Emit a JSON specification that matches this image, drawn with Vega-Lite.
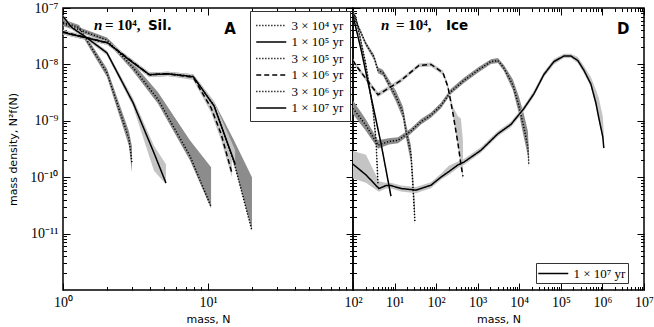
{
  "$schema": "https://vega.github.io/schema/vega-lite/v6.json",
  "background": "white",
  "padding": {"left": 6, "top": 0, "right": 0, "bottom": 0},
  "bounds": "flush",
  "spacing": 0,
  "config": {
    "view": {"stroke": "#000", "strokeWidth": 1.5},
    "axis": {"domain": false, "grid": false, "tickColor": "#000", "tickWidth": 1, "labelFont": "Liberation Serif", "labelFontSize": 14, "labelColor": "#000", "titleFont": "DejaVu Sans", "titleFontSize": 11, "titleFontWeight": "normal", "titleColor": "#000", "labelFlush": false, "labelOverlap": false, "labelBound": false, "minExtent": 0},
    "legend": {"strokeColor": "#333", "fillColor": "#fff", "padding": 6, "cornerRadius": 0, "symbolType": "M-1.1,0H2.9", "symbolFillColor": "transparent", "symbolStrokeColor": "#000", "symbolStrokeWidth": 1.5, "symbolSize": 225, "labelOffset": 18.5, "rowPadding": 0.5, "labelFont": "Liberation Serif", "labelFontSize": 13, "labelColor": "#000", "titleFontSize": 0}
  },
  "resolve": {"scale": {"x": "independent", "y": "independent", "strokeDash": "independent"}, "legend": {"strokeDash": "independent"}},
  "datasets": {
    "d": [
      {"p":"A","s":"3 × 10⁴ yr","x":1,"y":5.6e-8,"lo":5.0e-8,"hi":6.3e-8},
      {"p":"A","s":"3 × 10⁴ yr","x":1.29,"y":4.5e-8,"lo":4.0e-8,"hi":5.0e-8},
      {"p":"A","s":"3 × 10⁴ yr","x":2.01,"y":7.1e-9,"lo":6.0e-9,"hi":8.5e-9},
      {"p":"A","s":"3 × 10⁴ yr","x":2.85,"y":4.8e-10,"lo":3.6e-10,"hi":6.5e-10},
      {"p":"A","s":"3 × 10⁴ yr","x":2.99,"y":1.8e-10,"lo":1.2e-10,"hi":3.5e-10},

      {"p":"A","s":"1 × 10⁵ yr","x":1,"y":7.1e-8,"lo":6.6e-8,"hi":7.6e-8},
      {"p":"A","s":"1 × 10⁵ yr","x":1.15,"y":4.5e-8,"lo":4.1e-8,"hi":5.0e-8},
      {"p":"A","s":"1 × 10⁵ yr","x":1.4,"y":3.2e-8,"lo":2.9e-8,"hi":3.5e-8},
      {"p":"A","s":"1 × 10⁵ yr","x":2.01,"y":1.6e-8,"lo":1.45e-8,"hi":1.75e-8},
      {"p":"A","s":"1 × 10⁵ yr","x":3.04,"y":2.1e-9,"lo":1.8e-9,"hi":2.5e-9},
      {"p":"A","s":"1 × 10⁵ yr","x":4.24,"y":2.7e-10,"lo":1.3e-10,"hi":3.6e-10},
      {"p":"A","s":"1 × 10⁵ yr","x":5.13,"y":7.9e-11,"lo":7.5e-11,"hi":1.7e-10},

      {"p":"A","s":"3 × 10⁵ yr","x":1,"y":5.3e-8,"lo":4.8e-8,"hi":5.8e-8},
      {"p":"A","s":"3 × 10⁵ yr","x":2.01,"y":2.7e-8,"lo":2.5e-8,"hi":3.0e-8},
      {"p":"A","s":"3 × 10⁵ yr","x":2.99,"y":9.3e-9,"lo":8.0e-9,"hi":1.1e-8},
      {"p":"A","s":"3 × 10⁵ yr","x":4.52,"y":2.4e-9,"lo":2.0e-9,"hi":3.2e-9},
      {"p":"A","s":"3 × 10⁵ yr","x":7.5,"y":2.4e-10,"lo":2.0e-10,"hi":4.5e-10},
      {"p":"A","s":"3 × 10⁵ yr","x":10.5,"y":3.0e-11,"lo":2.8e-11,"hi":1.5e-10},

      {"p":"A","s":"1 × 10⁶ yr","x":1,"y":3.8e-8,"lo":3.5e-8,"hi":4.1e-8},
      {"p":"A","s":"1 × 10⁶ yr","x":2.04,"y":2.4e-8,"lo":2.2e-8,"hi":2.6e-8},
      {"p":"A","s":"1 × 10⁶ yr","x":2.94,"y":1.17e-8,"lo":1.07e-8,"hi":1.28e-8},
      {"p":"A","s":"1 × 10⁶ yr","x":3.92,"y":6.6e-9,"lo":6.0e-9,"hi":7.2e-9},
      {"p":"A","s":"1 × 10⁶ yr","x":5.3,"y":6.8e-9,"lo":6.2e-9,"hi":7.4e-9},
      {"p":"A","s":"1 × 10⁶ yr","x":7.9,"y":5.9e-9,"lo":5.3e-9,"hi":6.5e-9},
      {"p":"A","s":"1 × 10⁶ yr","x":10.5,"y":1.7e-9,"lo":1.4e-9,"hi":2.1e-9},
      {"p":"A","s":"1 × 10⁶ yr","x":12.3,"y":5.9e-10,"lo":4.5e-10,"hi":8.0e-10},
      {"p":"A","s":"1 × 10⁶ yr","x":14.6,"y":1.2e-10,"lo":1.0e-10,"hi":2.5e-10},

      {"p":"A","s":"3 × 10⁶ yr","x":1,"y":3.7e-8,"lo":3.4e-8,"hi":4.0e-8},
      {"p":"A","s":"3 × 10⁶ yr","x":2.03,"y":2.4e-8,"lo":2.2e-8,"hi":2.6e-8},
      {"p":"A","s":"3 × 10⁶ yr","x":2.9,"y":1.17e-8,"lo":1.07e-8,"hi":1.28e-8},
      {"p":"A","s":"3 × 10⁶ yr","x":3.95,"y":6.56e-9,"lo":6.0e-9,"hi":7.2e-9},
      {"p":"A","s":"3 × 10⁶ yr","x":5.3,"y":6.8e-9,"lo":6.2e-9,"hi":7.4e-9},
      {"p":"A","s":"3 × 10⁶ yr","x":7.9,"y":6.1e-9,"lo":5.5e-9,"hi":6.7e-9},
      {"p":"A","s":"3 × 10⁶ yr","x":11,"y":1.85e-9,"lo":1.6e-9,"hi":2.2e-9},
      {"p":"A","s":"3 × 10⁶ yr","x":15.1,"y":1.85e-10,"lo":1.7e-10,"hi":4.5e-10},
      {"p":"A","s":"3 × 10⁶ yr","x":20.1,"y":1.12e-11,"lo":1.12e-11,"hi":1.0e-10},

      {"p":"A","s":"1 × 10⁷ yr","x":1,"y":3.69e-8,"lo":3.4e-8,"hi":4.0e-8},
      {"p":"A","s":"1 × 10⁷ yr","x":2.03,"y":2.42e-8,"lo":2.2e-8,"hi":2.6e-8},
      {"p":"A","s":"1 × 10⁷ yr","x":2.9,"y":1.17e-8,"lo":1.07e-8,"hi":1.28e-8},
      {"p":"A","s":"1 × 10⁷ yr","x":3.95,"y":6.56e-9,"lo":6.0e-9,"hi":7.2e-9},
      {"p":"A","s":"1 × 10⁷ yr","x":5.3,"y":6.8e-9,"lo":6.2e-9,"hi":7.4e-9},
      {"p":"A","s":"1 × 10⁷ yr","x":7.9,"y":6.07e-9,"lo":5.5e-9,"hi":6.7e-9},
      {"p":"A","s":"1 × 10⁷ yr","x":11,"y":1.85e-9,"lo":1.6e-9,"hi":2.2e-9},
      {"p":"A","s":"1 × 10⁷ yr","x":15.4,"y":1.7e-10,"lo":1.4e-10,"hi":3.0e-10},

      {"p":"D","s":"3 × 10⁴ yr","x":1,"y":7.9e-8,"lo":7.0e-8,"hi":8.9e-8},
      {"p":"D","s":"3 × 10⁴ yr","x":1.18,"y":6.6e-8,"lo":5.8e-8,"hi":7.4e-8},
      {"p":"D","s":"3 × 10⁴ yr","x":2.05,"y":9.6e-9,"lo":8.3e-9,"hi":1.1e-8},
      {"p":"D","s":"3 × 10⁴ yr","x":3.03,"y":1.6e-9,"lo":1.35e-9,"hi":1.9e-9},
      {"p":"D","s":"3 × 10⁴ yr","x":3.57,"y":4.5e-10,"lo":3.7e-10,"hi":5.5e-10},
      {"p":"D","s":"3 × 10⁴ yr","x":3.99,"y":7.6e-11,"lo":6.5e-11,"hi":1.0e-10},

      {"p":"D","s":"1 × 10⁵ yr","x":1,"y":7.3e-8,"lo":6.8e-8,"hi":7.9e-8},
      {"p":"D","s":"1 × 10⁵ yr","x":1.56,"y":1.85e-8,"lo":1.7e-8,"hi":2.0e-8},
      {"p":"D","s":"1 × 10⁵ yr","x":2.71,"y":2.7e-9,"lo":2.45e-9,"hi":3.0e-9},
      {"p":"D","s":"1 × 10⁵ yr","x":4.71,"y":4.0e-10,"lo":3.6e-10,"hi":4.4e-10},
      {"p":"D","s":"1 × 10⁵ yr","x":8.19,"y":4.6e-11,"lo":4.2e-11,"hi":5.0e-11},

      {"p":"D","s":"3 × 10⁵ yr","x":1,"y":8.5e-8,"lo":7.8e-8,"hi":9.2e-8},
      {"p":"D","s":"3 × 10⁵ yr","x":1.32,"y":4.8e-8,"lo":4.4e-8,"hi":5.2e-8},
      {"p":"D","s":"3 × 10⁵ yr","x":2.05,"y":2.3e-8,"lo":2.1e-8,"hi":2.5e-8},
      {"p":"D","s":"3 × 10⁵ yr","x":3.2,"y":1.35e-8,"lo":1.2e-8,"hi":1.5e-8},
      {"p":"D","s":"3 × 10⁵ yr","x":3.99,"y":7.9e-9,"lo":7.0e-9,"hi":8.9e-9},
      {"p":"D","s":"3 × 10⁵ yr","x":5.26,"y":7.1e-9,"lo":6.3e-9,"hi":8.0e-9},
      {"p":"D","s":"3 × 10⁵ yr","x":7.33,"y":4.5e-9,"lo":3.9e-9,"hi":5.4e-9},
      {"p":"D","s":"3 × 10⁵ yr","x":10.8,"y":2.7e-9,"lo":2.2e-9,"hi":3.4e-9},
      {"p":"D","s":"3 × 10⁵ yr","x":15.9,"y":1.4e-9,"lo":1.1e-9,"hi":1.8e-9},
      {"p":"D","s":"3 × 10⁵ yr","x":18.8,"y":6.6e-10,"lo":5.0e-10,"hi":9.0e-10},
      {"p":"D","s":"3 × 10⁵ yr","x":24.8,"y":2.6e-10,"lo":1.8e-10,"hi":3.6e-10},
      {"p":"D","s":"3 × 10⁵ yr","x":27.7,"y":6.6e-11,"lo":5.0e-11,"hi":1.2e-10},
      {"p":"D","s":"3 × 10⁵ yr","x":30.9,"y":1.6e-11,"lo":1.4e-11,"hi":3.0e-11},

      {"p":"D","s":"1 × 10⁶ yr","x":1,"y":1.17e-8,"lo":1.08e-8,"hi":1.27e-8},
      {"p":"D","s":"1 × 10⁶ yr","x":1.18,"y":9.6e-9,"lo":8.8e-9,"hi":1.05e-8},
      {"p":"D","s":"1 × 10⁶ yr","x":3.99,"y":2.9e-9,"lo":2.65e-9,"hi":3.2e-9},
      {"p":"D","s":"1 × 10⁶ yr","x":8.19,"y":4.0e-9,"lo":3.7e-9,"hi":4.4e-9},
      {"p":"D","s":"1 × 10⁶ yr","x":14.3,"y":5.2e-9,"lo":4.8e-9,"hi":5.7e-9},
      {"p":"D","s":"1 × 10⁶ yr","x":38.6,"y":9.6e-9,"lo":8.9e-9,"hi":1.04e-8},
      {"p":"D","s":"1 × 10⁶ yr","x":75,"y":1.0e-8,"lo":9.2e-9,"hi":1.08e-8},
      {"p":"D","s":"1 × 10⁶ yr","x":146,"y":7.1e-9,"lo":6.5e-9,"hi":7.8e-9},
      {"p":"D","s":"1 × 10⁶ yr","x":192,"y":4.0e-9,"lo":3.6e-9,"hi":4.6e-9},
      {"p":"D","s":"1 × 10⁶ yr","x":254,"y":1.35e-9,"lo":1.2e-9,"hi":1.8e-9},
      {"p":"D","s":"1 × 10⁶ yr","x":334,"y":4.0e-10,"lo":3.5e-10,"hi":1.2e-9},
      {"p":"D","s":"1 × 10⁶ yr","x":394,"y":1.7e-10,"lo":1.5e-10,"hi":1.1e-9},
      {"p":"D","s":"1 × 10⁶ yr","x":441,"y":1.03e-10,"lo":9.0e-11,"hi":4.5e-10},

      {"p":"D","s":"3 × 10⁶ yr","x":1,"y":1.66e-9,"lo":1.3e-9,"hi":2.3e-9},
      {"p":"D","s":"3 × 10⁶ yr","x":2.05,"y":8.3e-10,"lo":6.6e-10,"hi":1.05e-9},
      {"p":"D","s":"3 × 10⁶ yr","x":3.99,"y":3.7e-10,"lo":3.2e-10,"hi":4.5e-10},
      {"p":"D","s":"3 × 10⁶ yr","x":7.33,"y":4.3e-10,"lo":3.8e-10,"hi":4.9e-10},
      {"p":"D","s":"3 × 10⁶ yr","x":12.1,"y":4.5e-10,"lo":4.0e-10,"hi":5.1e-10},
      {"p":"D","s":"3 × 10⁶ yr","x":24.8,"y":6.6e-10,"lo":5.9e-10,"hi":7.4e-10},
      {"p":"D","s":"3 × 10⁶ yr","x":43.1,"y":9.6e-10,"lo":8.6e-10,"hi":1.08e-9},
      {"p":"D","s":"3 × 10⁶ yr","x":75,"y":1.26e-9,"lo":1.13e-9,"hi":1.41e-9},
      {"p":"D","s":"3 × 10⁶ yr","x":130,"y":1.85e-9,"lo":1.65e-9,"hi":2.1e-9},
      {"p":"D","s":"3 × 10⁶ yr","x":227,"y":3.3e-9,"lo":3.0e-9,"hi":3.7e-9},
      {"p":"D","s":"3 × 10⁶ yr","x":466,"y":5.2e-9,"lo":4.7e-9,"hi":5.8e-9},
      {"p":"D","s":"3 × 10⁶ yr","x":1010,"y":7.9e-9,"lo":7.1e-9,"hi":8.8e-9},
      {"p":"D","s":"3 × 10⁶ yr","x":2076,"y":1.12e-8,"lo":1.02e-8,"hi":1.24e-8},
      {"p":"D","s":"3 × 10⁶ yr","x":3060,"y":1.17e-8,"lo":1.06e-8,"hi":1.3e-8},
      {"p":"D","s":"3 × 10⁶ yr","x":4266,"y":8.6e-9,"lo":7.6e-9,"hi":9.8e-9},
      {"p":"D","s":"3 × 10⁶ yr","x":7015,"y":4.3e-9,"lo":3.5e-9,"hi":5.4e-9},
      {"p":"D","s":"3 × 10⁶ yr","x":9780,"y":1.85e-9,"lo":1.35e-9,"hi":2.7e-9},
      {"p":"D","s":"3 × 10⁶ yr","x":12900,"y":7.6e-10,"lo":5.0e-10,"hi":1.3e-9},
      {"p":"D","s":"3 × 10⁶ yr","x":16100,"y":3.5e-10,"lo":2.4e-10,"hi":6.5e-10},
      {"p":"D","s":"3 × 10⁶ yr","x":17020,"y":1.7e-10,"lo":1.5e-10,"hi":3.0e-10},

      {"p":"D","s":"1 × 10⁷ yr","x":1,"y":1.7e-10,"lo":9.5e-11,"hi":2.9e-10},
      {"p":"D","s":"1 × 10⁷ yr","x":2.05,"y":1.1e-10,"lo":8.0e-11,"hi":2.5e-10},
      {"p":"D","s":"1 × 10⁷ yr","x":4.2,"y":6.3e-11,"lo":5.5e-11,"hi":8.5e-11},
      {"p":"D","s":"1 × 10⁷ yr","x":6.21,"y":7.1e-11,"lo":6.3e-11,"hi":8.0e-11},
      {"p":"D","s":"1 × 10⁷ yr","x":8.19,"y":7.1e-11,"lo":6.3e-11,"hi":8.0e-11},
      {"p":"D","s":"1 × 10⁷ yr","x":14.3,"y":6.3e-11,"lo":5.6e-11,"hi":7.1e-11},
      {"p":"D","s":"1 × 10⁷ yr","x":32.7,"y":5.9e-11,"lo":5.2e-11,"hi":6.7e-11},
      {"p":"D","s":"1 × 10⁷ yr","x":75,"y":7.2e-11,"lo":6.4e-11,"hi":8.1e-11},
      {"p":"D","s":"1 × 10⁷ yr","x":130,"y":1.0e-10,"lo":9.0e-11,"hi":1.15e-10},
      {"p":"D","s":"1 × 10⁷ yr","x":203,"y":1.26e-10,"lo":1.1e-10,"hi":1.6e-10},
      {"p":"D","s":"1 × 10⁷ yr","x":334,"y":1.65e-10,"lo":1.45e-10,"hi":1.9e-10},
      {"p":"D","s":"1 × 10⁷ yr","x":466,"y":1.85e-10,"lo":1.65e-10,"hi":2.1e-10},
      {"p":"D","s":"1 × 10⁷ yr","x":1194,"y":3.0e-10,"lo":2.7e-10,"hi":3.4e-10},
      {"p":"D","s":"1 × 10⁷ yr","x":3060,"y":5.9e-10,"lo":5.3e-10,"hi":6.6e-10},
      {"p":"D","s":"1 × 10⁷ yr","x":6280,"y":8.6e-10,"lo":7.7e-10,"hi":9.6e-10},
      {"p":"D","s":"1 × 10⁷ yr","x":12900,"y":1.65e-9,"lo":1.48e-9,"hi":1.85e-9},
      {"p":"D","s":"1 × 10⁷ yr","x":22440,"y":3.0e-9,"lo":2.7e-9,"hi":3.4e-9},
      {"p":"D","s":"1 × 10⁷ yr","x":39000,"y":6.6e-9,"lo":5.9e-9,"hi":7.4e-9},
      {"p":"D","s":"1 × 10⁷ yr","x":67900,"y":1.12e-8,"lo":1.0e-8,"hi":1.25e-8},
      {"p":"D","s":"1 × 10⁷ yr","x":118000,"y":1.41e-8,"lo":1.3e-8,"hi":1.55e-8},
      {"p":"D","s":"1 × 10⁷ yr","x":174000,"y":1.41e-8,"lo":1.3e-8,"hi":1.55e-8},
      {"p":"D","s":"1 × 10⁷ yr","x":256000,"y":1.17e-8,"lo":1.05e-8,"hi":1.35e-8},
      {"p":"D","s":"1 × 10⁷ yr","x":357000,"y":7.9e-9,"lo":7.0e-9,"hi":9.5e-9},
      {"p":"D","s":"1 × 10⁷ yr","x":526000,"y":4.5e-9,"lo":4.0e-9,"hi":6.0e-9},
      {"p":"D","s":"1 × 10⁷ yr","x":693000,"y":2.1e-9,"lo":1.8e-9,"hi":3.6e-9},
      {"p":"D","s":"1 × 10⁷ yr","x":819000,"y":1.12e-9,"lo":1.0e-9,"hi":2.5e-9},
      {"p":"D","s":"1 × 10⁷ yr","x":1020000,"y":5.2e-10,"lo":4.6e-10,"hi":1.2e-9},
      {"p":"D","s":"1 × 10⁷ yr","x":1080000,"y":3.3e-10,"lo":3.0e-10,"hi":6.0e-10}
    ]
  },
  "hconcat": [
    {
      "width": 290,
      "height": 282,
      "data": {"name": "d"},
      "transform": [{"filter": "datum.p == 'A'"}],
      "resolve": {"axis": {"x": "independent", "y": "independent"}},
      "layer": [
        {
          "transform": [{"filter": {"field": "s", "oneOf": ["3 × 10⁴ yr", "3 × 10⁵ yr", "3 × 10⁶ yr"]}}],
          "mark": {"type": "area", "fill": "#8c8c8c", "clip": true},
          "encoding": {
            "x": {"field": "x", "type": "quantitative", "scale": {"type": "log", "domain": [1, 100]}, "axis": {"orient": "bottom", "values": [1, 10, 100], "tickSize": -7, "labelPadding": 12, "labelExpr": "['10⁰','10¹','10²'][round(log(datum.value)/LN10)]", "title": "mass, N", "titlePadding": 4}},
            "y": {"field": "lo", "type": "quantitative", "scale": {"type": "log", "domain": [2e-12, 1e-7]}, "axis": {"orient": "left", "values": [1e-11, 1e-10, 1e-9, 1e-8, 1e-7], "tickSize": -7, "labelPadding": 12, "labelExpr": "['10⁻¹¹','10⁻¹⁰','10⁻⁹','10⁻⁸','10⁻⁷'][round(log(datum.value)/LN10)+11]", "title": "mass density, N²f(N)", "minExtent": 40, "maxExtent": 40, "titlePadding": 5}},
            "y2": {"field": "hi"},
            "detail": {"field": "s"}
          }
        },
        {
          "transform": [{"filter": {"field": "s", "oneOf": ["1 × 10⁵ yr", "1 × 10⁶ yr", "1 × 10⁷ yr"]}}],
          "mark": {"type": "area", "fill": "#c4c4c4", "clip": true},
          "encoding": {
            "x": {"field": "x", "type": "quantitative", "axis": {"orient": "bottom", "values": [2,3,4,5,6,7,8,9,20,30,40,50,60,70,80,90], "tickSize": -3.5, "labels": false, "title": null, "maxExtent": 0}},
            "y": {"field": "lo", "type": "quantitative", "axis": {"orient": "left", "values": [2e-12,3e-12,4e-12,5e-12,6e-12,7e-12,8e-12,9e-12,2e-11,3e-11,4e-11,5e-11,6e-11,7e-11,8e-11,9e-11,2e-10,3e-10,4e-10,5e-10,6e-10,7e-10,8e-10,9e-10,2e-9,3e-9,4e-9,5e-9,6e-9,7e-9,8e-9,9e-9,2e-8,3e-8,4e-8,5e-8,6e-8,7e-8,8e-8,9e-8], "tickSize": -3.5, "labels": false, "title": null, "maxExtent": 0}},
            "y2": {"field": "hi"},
            "detail": {"field": "s"}
          }
        },
        {
          "transform": [{"filter": {"field": "s", "oneOf": ["3 × 10⁴ yr", "3 × 10⁵ yr", "3 × 10⁶ yr"]}}],
          "mark": {"type": "line", "stroke": "#000", "strokeWidth": 1.5, "clip": true},
          "encoding": {
            "x": {"field": "x", "type": "quantitative", "axis": {"orient": "top", "values": [1, 10, 100], "tickSize": -7, "labels": false, "title": null, "maxExtent": 0}},
            "y": {"field": "y", "type": "quantitative", "axis": {"orient": "right", "values": [1e-11, 1e-10, 1e-9, 1e-8, 1e-7], "tickSize": -7, "labels": false, "title": null, "maxExtent": 0}},
            "strokeDash": {"field": "s", "type": "nominal", "scale": {"domain": ["3 × 10⁴ yr", "1 × 10⁵ yr", "3 × 10⁵ yr", "1 × 10⁶ yr", "3 × 10⁶ yr", "1 × 10⁷ yr"], "range": [[1.2, 1.8], [1, 0], [1.2, 1.8], [5, 3], [1.2, 1.8], [1, 0]]}, "legend": {"orient": "none", "legendX": 187, "legendY": 3, "title": null}}
          }
        },
        {
          "transform": [{"filter": {"field": "s", "oneOf": ["1 × 10⁵ yr", "1 × 10⁶ yr", "1 × 10⁷ yr"]}}],
          "mark": {"type": "line", "stroke": "#000", "strokeWidth": 1.5, "clip": true},
          "encoding": {
            "x": {"field": "x", "type": "quantitative", "axis": {"orient": "top", "values": [2,3,4,5,6,7,8,9,20,30,40,50,60,70,80,90], "tickSize": -3.5, "labels": false, "title": null, "maxExtent": 0}},
            "y": {"field": "y", "type": "quantitative", "axis": {"orient": "right", "values": [2e-12,3e-12,4e-12,5e-12,6e-12,7e-12,8e-12,9e-12,2e-11,3e-11,4e-11,5e-11,6e-11,7e-11,8e-11,9e-11,2e-10,3e-10,4e-10,5e-10,6e-10,7e-10,8e-10,9e-10,2e-9,3e-9,4e-9,5e-9,6e-9,7e-9,8e-9,9e-9,2e-8,3e-8,4e-8,5e-8,6e-8,7e-8,8e-8,9e-8], "tickSize": -3.5, "labels": false, "title": null, "maxExtent": 0}},
            "strokeDash": {"field": "s", "type": "nominal", "legend": {"orient": "none", "legendX": 187, "legendY": 3, "title": null}}
          }
        },
        {
          "data": {"values": [{}]},
          "mark": {"type": "text", "text": "n", "font": "Liberation Serif", "fontStyle": "italic", "fontWeight": "bold", "fontSize": 15, "align": "left", "baseline": "alphabetic"},
          "encoding": {"x": {"datum": 1.636, "type": "quantitative", "axis": null}, "y": {"datum": 4.0e-8, "type": "quantitative", "axis": null}}
        },
        {
          "data": {"values": [{}]},
          "mark": {"type": "text", "text": "= 10⁴,", "font": "Liberation Serif", "fontWeight": "bold", "fontSize": 15, "align": "left", "baseline": "alphabetic"},
          "encoding": {"x": {"datum": 1.948, "type": "quantitative", "axis": null}, "y": {"datum": 4.0e-8, "type": "quantitative", "axis": null}}
        },
        {
          "data": {"values": [{}]},
          "mark": {"type": "text", "text": "Sil.", "font": "DejaVu Sans", "fontWeight": "bold", "fontSize": 13.5, "align": "left", "baseline": "alphabetic"},
          "encoding": {"x": {"datum": 3.85, "type": "quantitative", "axis": null}, "y": {"datum": 4.0e-8, "type": "quantitative", "axis": null}}
        },
        {
          "data": {"values": [{}]},
          "mark": {"type": "text", "text": "A", "font": "DejaVu Sans", "fontWeight": "bold", "fontSize": 15, "align": "center", "baseline": "alphabetic"},
          "encoding": {"x": {"datum": 14.2, "type": "quantitative", "axis": null}, "y": {"datum": 3.5e-8, "type": "quantitative", "axis": null}}
        }
      ]
    },
    {
      "width": 291,
      "height": 282,
      "data": {"name": "d"},
      "transform": [{"filter": "datum.p == 'D'"}],
      "resolve": {"axis": {"x": "independent", "y": "independent"}},
      "layer": [
        {
          "transform": [{"filter": {"field": "s", "oneOf": ["3 × 10⁴ yr", "3 × 10⁵ yr", "3 × 10⁶ yr"]}}],
          "mark": {"type": "area", "fill": "#8c8c8c", "clip": true},
          "encoding": {
            "x": {"field": "x", "type": "quantitative", "scale": {"type": "log", "domain": [1, 10000000]}, "axis": {"orient": "bottom", "values": [1, 10, 100, 1000, 10000, 100000, 1000000, 10000000], "tickSize": -7, "labelPadding": 12, "labelExpr": "['','10¹','10²','10³','10⁴','10⁵','10⁶','10⁷'][round(log(datum.value)/LN10)]", "title": "mass, N", "titlePadding": 4}},
            "y": {"field": "lo", "type": "quantitative", "scale": {"type": "log", "domain": [2e-12, 1e-7]}, "axis": {"orient": "left", "values": [1e-11, 1e-10, 1e-9, 1e-8, 1e-7], "tickSize": -7, "labels": false, "title": null, "maxExtent": 0}},
            "y2": {"field": "hi"},
            "detail": {"field": "s"}
          }
        },
        {
          "transform": [{"filter": {"field": "s", "oneOf": ["1 × 10⁵ yr", "1 × 10⁶ yr", "1 × 10⁷ yr"]}}],
          "mark": {"type": "area", "fill": "#c4c4c4", "clip": true},
          "encoding": {
            "x": {"field": "x", "type": "quantitative", "axis": {"orient": "bottom", "values": [2,3,4,5,6,7,8,9,20,30,40,50,60,70,80,90,200,300,400,500,600,700,800,900,2000,3000,4000,5000,6000,7000,8000,9000,20000,30000,40000,50000,60000,70000,80000,90000,200000,300000,400000,500000,600000,700000,800000,900000,2000000,3000000,4000000,5000000,6000000,7000000,8000000,9000000], "tickSize": -3.5, "labels": false, "title": null, "maxExtent": 0}},
            "y": {"field": "lo", "type": "quantitative", "axis": {"orient": "left", "values": [2e-12,3e-12,4e-12,5e-12,6e-12,7e-12,8e-12,9e-12,2e-11,3e-11,4e-11,5e-11,6e-11,7e-11,8e-11,9e-11,2e-10,3e-10,4e-10,5e-10,6e-10,7e-10,8e-10,9e-10,2e-9,3e-9,4e-9,5e-9,6e-9,7e-9,8e-9,9e-9,2e-8,3e-8,4e-8,5e-8,6e-8,7e-8,8e-8,9e-8], "tickSize": -3.5, "labels": false, "title": null, "maxExtent": 0}},
            "y2": {"field": "hi"},
            "detail": {"field": "s"}
          }
        },
        {
          "transform": [{"filter": {"field": "s", "oneOf": ["3 × 10⁴ yr", "3 × 10⁵ yr", "3 × 10⁶ yr"]}}],
          "mark": {"type": "line", "stroke": "#000", "strokeWidth": 1.5, "clip": true},
          "encoding": {
            "x": {"field": "x", "type": "quantitative", "axis": {"orient": "top", "values": [1, 10, 100, 1000, 10000, 100000, 1000000, 10000000], "tickSize": -7, "labels": false, "title": null, "maxExtent": 0}},
            "y": {"field": "y", "type": "quantitative", "axis": {"orient": "right", "values": [1e-11, 1e-10, 1e-9, 1e-8, 1e-7], "tickSize": -7, "labels": false, "title": null, "maxExtent": 0}},
            "strokeDash": {"field": "s", "type": "nominal", "scale": {"domain": ["3 × 10⁴ yr", "1 × 10⁵ yr", "3 × 10⁵ yr", "1 × 10⁶ yr", "3 × 10⁶ yr", "1 × 10⁷ yr"], "range": [[1.2, 1.8], [1, 0], [1.2, 1.8], [5, 3], [1.2, 1.8], [1, 0]]}, "legend": {"orient": "none", "legendX": 183, "legendY": 255, "padding": 2, "title": null, "values": ["1 × 10⁷ yr"]}}
          }
        },
        {
          "transform": [{"filter": {"field": "s", "oneOf": ["1 × 10⁵ yr", "1 × 10⁶ yr", "1 × 10⁷ yr"]}}],
          "mark": {"type": "line", "stroke": "#000", "strokeWidth": 1.5, "clip": true},
          "encoding": {
            "x": {"field": "x", "type": "quantitative", "axis": {"orient": "top", "values": [2,3,4,5,6,7,8,9,20,30,40,50,60,70,80,90,200,300,400,500,600,700,800,900,2000,3000,4000,5000,6000,7000,8000,9000,20000,30000,40000,50000,60000,70000,80000,90000,200000,300000,400000,500000,600000,700000,800000,900000,2000000,3000000,4000000,5000000,6000000,7000000,8000000,9000000], "tickSize": -3.5, "labels": false, "title": null, "maxExtent": 0}},
            "y": {"field": "y", "type": "quantitative", "axis": {"orient": "right", "values": [2e-12,3e-12,4e-12,5e-12,6e-12,7e-12,8e-12,9e-12,2e-11,3e-11,4e-11,5e-11,6e-11,7e-11,8e-11,9e-11,2e-10,3e-10,4e-10,5e-10,6e-10,7e-10,8e-10,9e-10,2e-9,3e-9,4e-9,5e-9,6e-9,7e-9,8e-9,9e-9,2e-8,3e-8,4e-8,5e-8,6e-8,7e-8,8e-8,9e-8], "tickSize": -3.5, "labels": false, "title": null, "maxExtent": 0}},
            "strokeDash": {"field": "s", "type": "nominal", "legend": {"orient": "none", "legendX": 183, "legendY": 255, "padding": 2, "title": null, "values": ["1 × 10⁷ yr"]}}
          }
        },
        {
          "data": {"values": [{}]},
          "mark": {"type": "text", "text": "n", "font": "Liberation Serif", "fontStyle": "italic", "fontWeight": "bold", "fontSize": 15, "align": "left", "baseline": "alphabetic"},
          "encoding": {"x": {"datum": 4.71, "type": "quantitative", "axis": null}, "y": {"datum": 4.0e-8, "type": "quantitative", "axis": null}}
        },
        {
          "data": {"values": [{}]},
          "mark": {"type": "text", "text": "= 10⁴,", "font": "Liberation Serif", "fontWeight": "bold", "fontSize": 15, "align": "left", "baseline": "alphabetic"},
          "encoding": {"x": {"datum": 10.8, "type": "quantitative", "axis": null}, "y": {"datum": 4.0e-8, "type": "quantitative", "axis": null}}
        },
        {
          "data": {"values": [{}]},
          "mark": {"type": "text", "text": "Ice", "font": "DejaVu Sans", "fontWeight": "bold", "fontSize": 13.5, "align": "left", "baseline": "alphabetic"},
          "encoding": {"x": {"datum": 172, "type": "quantitative", "axis": null}, "y": {"datum": 4.0e-8, "type": "quantitative", "axis": null}}
        },
        {
          "data": {"values": [{}]},
          "mark": {"type": "text", "text": "D", "font": "DejaVu Sans", "fontWeight": "bold", "fontSize": 15, "align": "center", "baseline": "alphabetic"},
          "encoding": {"x": {"datum": 3180000, "type": "quantitative", "axis": null}, "y": {"datum": 3.5e-8, "type": "quantitative", "axis": null}}
        }
      ]
    }
  ]
}
